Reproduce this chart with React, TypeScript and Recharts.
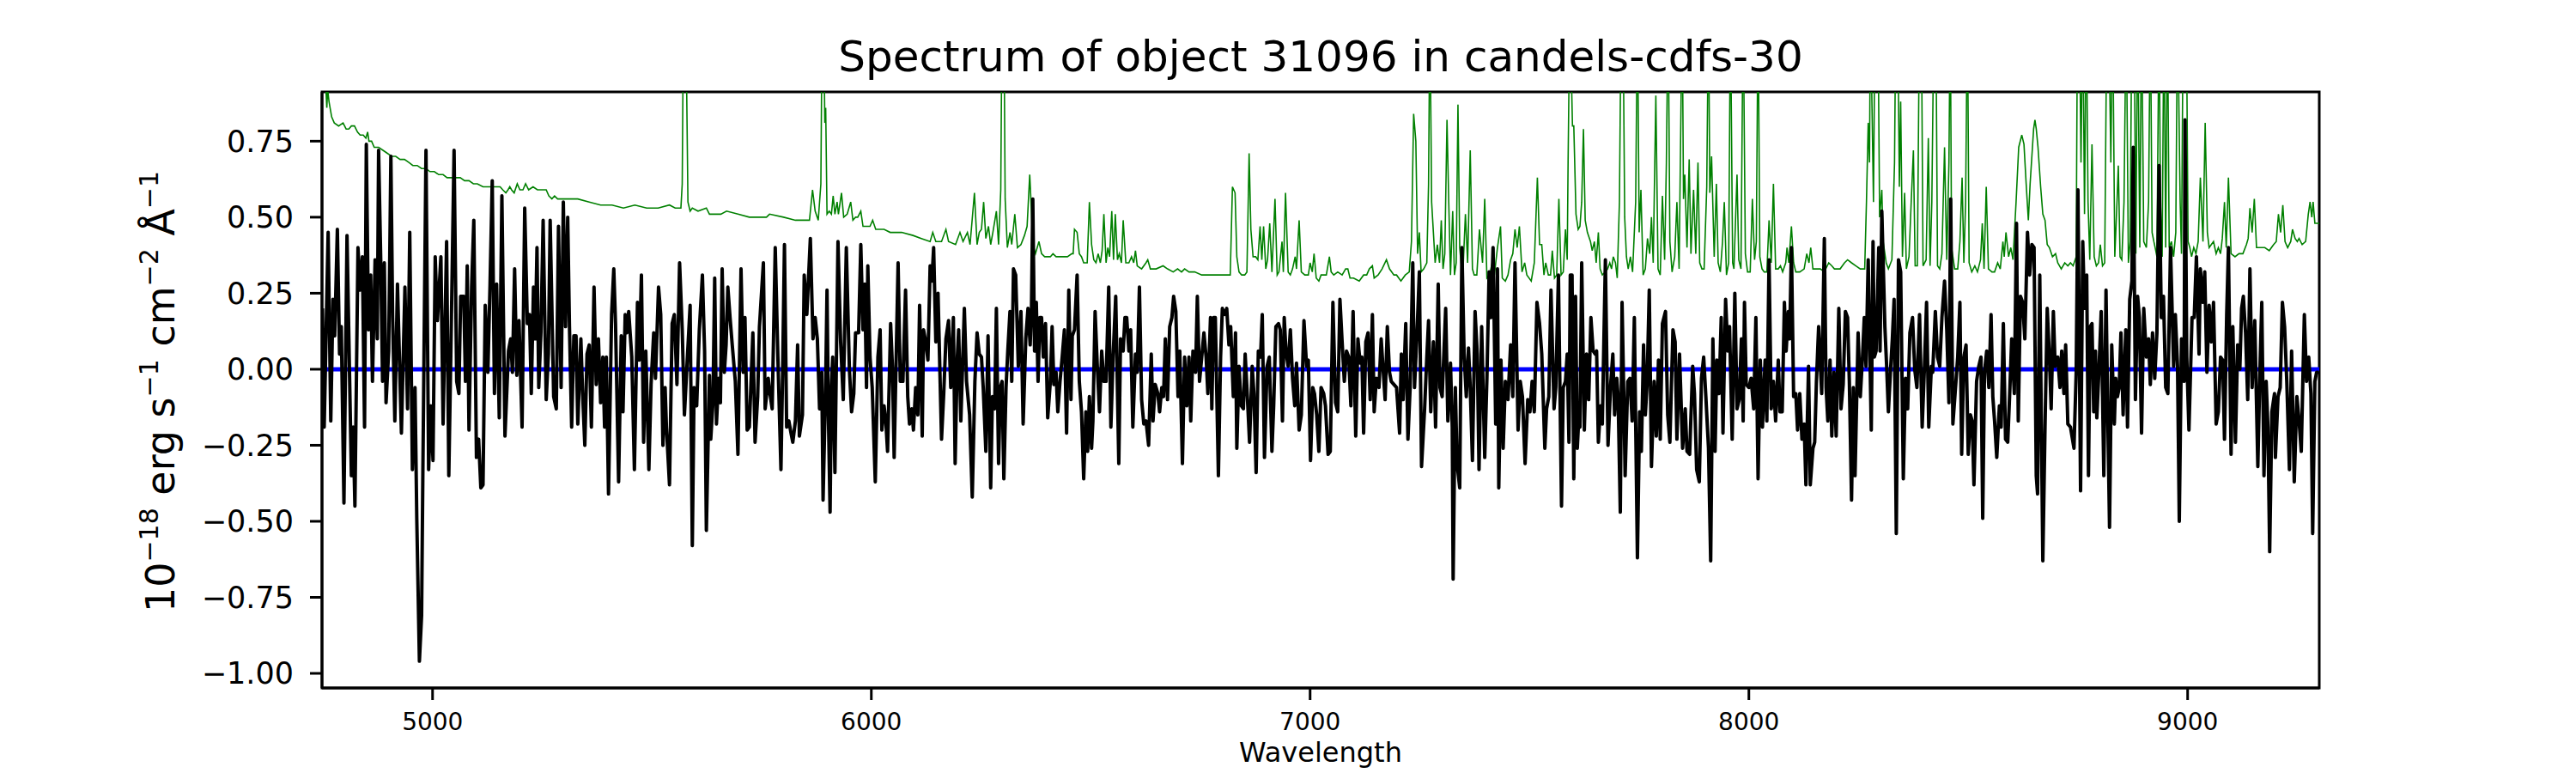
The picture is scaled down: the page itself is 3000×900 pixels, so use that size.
import React from 'react';
import { LineChart, Line, XAxis, YAxis, ReferenceArea } from 'recharts';

const FONT = '"DejaVu Sans", sans-serif';
const CHART_W = 2984;
const CHART_H = 890;

const WAVE_DOMAIN: [number, number] = [4748, 9300];
const FLUX_DOMAIN: [number, number] = [-1.048, 0.912];
const WAVE_TICKS = [5000, 6000, 7000, 8000, 9000];
const FLUX_TICKS = [-1, -0.75, -0.5, -0.25, 0, 0.25, 0.5, 0.75];

const TITLE = 'Spectrum of object 31096 in candels-cdfs-30';

// object flux, [wavelength, flux] in chunks
const fluxA = [
  [4749, 0.2], [4753, -0.19], [4762, 0.45], [4768, -0.17], [4773, 0.23], [4777, 0.11], [4783, 0.46], [4788, 0.05],
  [4792, 0.14], [4798, -0.44], [4805, 0.44], [4815, -0.35], [4819, -0.19], [4823, -0.45], [4830, 0.4], [4835, 0.26],
  [4840, 0.37], [4845, -0.19], [4849, 0.74], [4854, 0.13], [4859, 0.31], [4863, -0.04], [4869, 0.36], [4874, 0.1],
  [4877, 0.72], [4882, 0.35], [4886, -0.04], [4890, 0.35], [4894, -0.11], [4900, 0.06], [4905, 0.7], [4909, 0.17],
  [4914, -0.17], [4920, 0.28], [4929, -0.21], [4937, 0.27], [4943, -0.13], [4948, 0.45], [4954, -0.33], [4960, -0.06],
  [4964, -0.49], [4970, -0.96], [4975, -0.81], [4978, -0.32], [4985, 0.72], [4991, -0.33], [4996, -0.12], [5001, -0.3],
  [5006, 0.37], [5011, 0.16], [5019, 0.37], [5024, -0.18], [5032, 0.42], [5037, -0.35], [5043, 0.17], [5049, 0.72],
  [5055, -0.04], [5060, -0.08], [5064, 0.24], [5071, 0.24], [5075, -0.04], [5079, 0.34], [5083, -0.2], [5089, 0.27],
  [5094, 0.49], [5100, -0.29], [5105, -0.23], [5110, -0.39], [5115, -0.38], [5120, 0.21], [5126, -0.01], [5131, 0.28],
  [5136, 0.62], [5141, -0.08], [5146, 0.28], [5152, -0.16], [5158, 0.57], [5165, -0.22], [5173, 0.06], [5178, 0.1],
  [5182, -0.01], [5187, 0.33], [5192, -0.02], [5197, 0.16], [5204, -0.19], [5210, 0.53], [5216, 0.15], [5221, 0.18],
  [5225, -0.08], [5230, 0.27], [5234, 0.1], [5238, 0.4], [5242, -0.06], [5247, 0.12], [5252, 0.49], [5259, -0.1],
  [5264, 0.05], [5268, 0.49], [5276, -0.09], [5282, -0.13], [5287, 0.47], [5293, -0.06], [5298, 0.55], [5303, 0.14],
  [5308, 0.5], [5312, 0.14], [5317, -0.19], [5322, 0.11],
];

const fluxB = [
  [5327, 0.11], [5331, -0.18], [5338, 0.1], [5342, -0.08], [5347, -0.25], [5352, 0.05], [5357, 0.08], [5362, -0.19],
  [5368, 0.27], [5373, -0.05], [5378, 0.1], [5383, -0.11], [5388, 0.04], [5392, -0.19], [5396, 0.04], [5401, -0.41],
  [5408, 0.18], [5413, 0.33], [5417, 0.15], [5424, -0.37], [5430, 0.11], [5434, -0.14], [5439, 0.18], [5443, 0.12],
  [5447, 0.19], [5454, 0.04], [5460, -0.33], [5467, 0.22], [5471, 0.03], [5476, 0.31], [5481, -0.24], [5486, 0.06],
  [5493, -0.33], [5498, -0.05], [5504, 0.12], [5508, -0.03], [5515, 0.27], [5520, 0.18], [5525, -0.25], [5530, -0.06],
  [5533, -0.19], [5540, -0.38], [5546, 0.15], [5551, 0.18], [5557, -0.05], [5563, 0.35], [5569, 0.13], [5574, -0.15],
  [5579, -0.01], [5587, 0.21], [5592, -0.58], [5596, -0.06], [5602, -0.12], [5608, 0.13], [5615, 0.31], [5620, 0.06],
  [5624, -0.53], [5631, -0.02], [5634, -0.23], [5639, -0.11], [5643, 0.3], [5647, -0.18], [5652, -0.03], [5656, -0.11],
  [5660, 0.33], [5665, -0.01], [5669, 0.08], [5673, 0.27], [5678, 0.17], [5683, 0.08], [5690, -0.04], [5696, -0.28],
  [5703, 0.33], [5708, -0.01], [5712, 0.17], [5717, -0.2], [5722, -0.19], [5730, 0.12], [5735, -0.24], [5741, -0.09],
  [5745, 0.14], [5754, 0.35], [5758, -0.13], [5765, -0.03], [5769, -0.08], [5774, -0.13], [5781, 0.4], [5787, 0.04],
  [5794, -0.33], [5798, 0.01], [5802, 0.41], [5807, -0.19], [5812, -0.17], [5817, -0.21], [5821, -0.24], [5827, -0.17],
  [5832, 0.08], [5836, -0.22], [5843, -0.15], [5847, 0.31], [5853, 0.18], [5861, 0.43], [5867, 0.1], [5872, 0.17],
  [5877, 0.1], [5882, -0.13], [5887, -0.01], [5890, -0.43],
];

const fluxC = [
  [5896, -0.04], [5899, 0.26], [5902, -0.14], [5906, -0.47], [5909, -0.06], [5912, 0.04], [5917, -0.34], [5924, 0.42],
  [5930, 0.09], [5936, -0.1], [5943, 0.4], [5950, 0.0], [5955, -0.14], [5960, -0.08], [5964, 0.12], [5971, 0.12],
  [5976, 0.41], [5981, 0.13], [5985, 0.28], [5989, -0.06], [5992, 0.34], [5997, 0.04], [6002, -0.06], [6009, -0.37],
  [6015, 0.04], [6020, 0.13], [6024, -0.2], [6029, -0.12], [6033, -0.17], [6037, -0.27], [6044, 0.15], [6048, 0.01],
  [6052, -0.29], [6061, 0.35], [6066, -0.04], [6072, -0.04], [6078, 0.26], [6083, -0.09], [6087, -0.18], [6092, -0.13],
  [6096, -0.2], [6101, -0.06], [6106, -0.15], [6110, 0.21], [6116, -0.22], [6119, 0.13], [6124, 0.09], [6129, 0.03],
  [6134, 0.34], [6138, 0.29], [6142, 0.4], [6147, 0.09], [6152, 0.25], [6160, -0.23], [6165, -0.08], [6170, 0.1],
  [6176, 0.16], [6181, -0.06], [6187, 0.17], [6191, -0.31], [6196, 0.04], [6199, 0.13], [6204, -0.17], [6212, 0.2],
  [6217, -0.04], [6224, -0.15], [6230, -0.42], [6236, -0.04], [6241, 0.12], [6246, 0.05], [6251, 0.04], [6255, -0.06],
  [6261, -0.27], [6266, 0.11], [6272, -0.39], [6276, -0.09], [6281, -0.13], [6285, 0.2], [6290, -0.31], [6294, -0.06],
  [6298, -0.04], [6302, -0.36], [6307, -0.06], [6311, 0.06], [6316, 0.19], [6320, -0.04], [6324, 0.33], [6329, 0.31],
  [6335, 0.01], [6341, 0.19], [6346, -0.18], [6352, 0.1], [6357, 0.2], [6362, 0.08], [6365, 0.2], [6368, 0.56],
  [6372, 0.06], [6376, 0.22], [6380, -0.04], [6384, 0.17], [6388, 0.17], [6392, 0.04], [6397, 0.15], [6402, -0.16],
  [6408, -0.04], [6412, 0.14], [6416, -0.05], [6421, -0.01], [6425, -0.14], [6430, -0.04], [6435, 0.04], [6440, 0.13],
  [6445, -0.21], [6450, 0.26], [6455, -0.1], [6458, 0.11],
];

const fluxD = [
  [6463, 0.13], [6469, 0.31], [6474, -0.04], [6479, -0.14], [6484, -0.36], [6489, -0.14], [6493, -0.27], [6497, -0.09],
  [6502, -0.26], [6505, -0.17], [6510, 0.19], [6515, 0.01], [6520, -0.14], [6525, 0.06], [6530, -0.04], [6535, -0.04],
  [6541, 0.27], [6546, -0.19], [6551, 0.04], [6557, 0.24], [6564, -0.31], [6568, 0.1], [6574, 0.06], [6578, 0.17],
  [6582, 0.17], [6587, 0.06], [6591, 0.13], [6596, -0.19], [6602, 0.05], [6606, -0.01], [6611, 0.27], [6616, -0.1],
  [6621, -0.18], [6626, -0.17], [6632, -0.25], [6638, 0.05], [6642, -0.17], [6647, -0.05], [6653, -0.08], [6657, -0.14],
  [6662, -0.06], [6666, -0.09], [6670, 0.1], [6675, -0.1], [6680, 0.14], [6685, 0.17], [6689, 0.24], [6694, 0.19],
  [6699, -0.09], [6703, 0.06], [6709, -0.31], [6714, 0.04], [6719, -0.12], [6724, 0.04], [6728, -0.17], [6733, 0.06],
  [6739, -0.01], [6743, 0.24], [6748, -0.04], [6753, 0.04], [6758, 0.12], [6763, 0.04], [6767, -0.08], [6773, 0.17],
  [6776, -0.13], [6780, 0.17], [6784, 0.17], [6791, -0.35], [6796, 0.04], [6800, 0.2], [6805, 0.18], [6810, 0.2],
  [6815, 0.08], [6819, 0.14], [6825, -0.09], [6830, 0.12], [6833, -0.26], [6838, 0.01], [6843, -0.12], [6848, -0.13],
  [6852, 0.05], [6857, -0.09], [6862, -0.24], [6868, 0.01], [6872, -0.08], [6877, -0.34], [6882, 0.06], [6887, 0.04],
  [6891, 0.18], [6896, -0.29], [6902, 0.01], [6907, 0.04], [6913, -0.27], [6917, -0.12], [6922, 0.14], [6928, 0.15],
  [6932, 0.13], [6937, -0.17], [6941, 0.17], [6945, 0.06], [6950, 0.01], [6955, 0.13], [6960, -0.03], [6965, -0.12],
  [6969, 0.02], [6975, -0.2], [6980, -0.15], [6986, 0.16], [6992, 0.01], [6996, 0.03], [7001, -0.3], [7006, -0.06],
  [7010, -0.08], [7015, -0.15], [7020, -0.27], [7025, -0.06],
];

const fluxE = [
  [7031, -0.08], [7035, -0.12], [7041, -0.28], [7046, -0.27], [7052, 0.22], [7058, -0.11], [7063, -0.14], [7068, 0.23],
  [7073, 0.09], [7078, -0.04], [7083, 0.06], [7088, 0.04], [7093, -0.12], [7098, 0.19], [7104, -0.22], [7109, 0.1],
  [7114, 0.02], [7118, 0.04], [7122, -0.21], [7127, 0.09], [7132, 0.12], [7137, -0.1], [7142, 0.18], [7146, -0.14],
  [7151, -0.03], [7157, -0.06], [7162, 0.1], [7166, 0.01], [7171, -0.1], [7176, 0.14], [7181, -0.01], [7185, -0.04],
  [7191, -0.05], [7197, -0.06], [7204, -0.21], [7208, 0.05], [7212, -0.1], [7218, 0.15], [7223, -0.23], [7228, -0.06],
  [7234, 0.35], [7238, -0.06], [7244, 0.13], [7249, 0.32], [7254, -0.32], [7261, -0.13], [7266, 0.04], [7270, 0.16],
  [7275, -0.14], [7281, 0.09], [7286, -0.19], [7292, 0.28], [7296, -0.06], [7301, -0.09], [7309, 0.2], [7314, -0.17],
  [7320, 0.02], [7324, -0.19], [7326, -0.69], [7331, -0.06], [7335, -0.31], [7341, -0.39], [7346, 0.4], [7351, 0.05],
  [7356, -0.09], [7361, 0.07], [7365, -0.06], [7370, -0.3], [7376, 0.19], [7381, 0.05], [7385, -0.33], [7391, 0.14],
  [7398, -0.29], [7403, -0.03], [7408, 0.32], [7412, 0.17], [7417, 0.4], [7423, -0.18], [7427, 0.33], [7430, -0.39],
  [7435, 0.03], [7440, -0.26], [7445, -0.04], [7451, -0.1], [7457, 0.08], [7462, -0.09], [7467, 0.35], [7474, -0.2],
  [7479, -0.04], [7484, -0.09], [7490, -0.31], [7496, -0.1], [7501, -0.14], [7506, -0.04], [7511, -0.14], [7517, 0.22],
  [7523, 0.15], [7528, 0.05], [7535, -0.26], [7539, -0.13], [7544, -0.09], [7549, 0.26], [7556, -0.13], [7560, -0.06],
  [7566, 0.31], [7573, -0.45], [7577, -0.06], [7582, -0.04], [7586, 0.05], [7590, -0.24], [7593, 0.31],
];

const fluxF = [
  [7597, 0.31], [7601, -0.36], [7605, 0.24], [7609, -0.26], [7613, -0.14], [7615, -0.19], [7619, 0.35], [7625, -0.2],
  [7630, 0.05], [7635, -0.1], [7640, 0.17], [7645, 0.06], [7650, 0.05], [7653, 0.06], [7657, -0.24], [7662, -0.12],
  [7666, -0.18], [7673, 0.36], [7679, -0.25], [7685, -0.05], [7690, 0.05], [7694, -0.15], [7699, -0.03], [7702, -0.09],
  [7707, -0.47], [7711, 0.22], [7715, -0.09], [7718, -0.35], [7724, -0.04], [7729, -0.03], [7734, -0.17], [7739, 0.17],
  [7746, -0.62], [7751, -0.14], [7755, -0.27], [7760, 0.08], [7764, -0.15], [7768, -0.05], [7773, 0.26], [7778, -0.32],
  [7784, -0.04], [7789, -0.22], [7794, 0.03], [7798, -0.23], [7803, 0.15], [7810, 0.19], [7815, -0.15], [7820, -0.24],
  [7827, 0.13], [7832, 0.09], [7836, -0.23], [7842, 0.05], [7849, -0.26], [7855, -0.13], [7859, -0.27], [7865, -0.28],
  [7872, 0.01], [7876, -0.08], [7881, -0.33], [7887, -0.37], [7892, -0.03], [7897, 0.04], [7902, -0.09], [7908, -0.26],
  [7913, -0.63], [7918, 0.1], [7923, -0.27], [7927, 0.03], [7932, -0.08], [7937, 0.17], [7941, -0.21], [7947, 0.23],
  [7952, 0.06], [7956, 0.14], [7962, -0.23], [7968, 0.25], [7973, -0.13], [7978, -0.1], [7983, 0.1], [7987, -0.17],
  [7990, 0.22], [7994, -0.05], [8000, -0.06], [8005, -0.03], [8011, -0.13], [8016, 0.17], [8021, -0.36], [8026, 0.03],
  [8031, -0.19], [8037, 0.03], [8041, -0.17], [8046, 0.36], [8051, -0.13], [8056, -0.04], [8061, -0.17], [8067, 0.03],
  [8071, -0.14], [8076, -0.14], [8081, 0.22], [8085, 0.06], [8090, 0.19], [8093, 0.1], [8097, 0.4], [8102, -0.09],
  [8107, -0.08], [8111, -0.2], [8116, -0.08], [8121, -0.23], [8126, -0.18], [8130, -0.38], [8136, 0.01], [8140, -0.38],
  [8146, -0.26], [8150, -0.24], [8154, -0.04], [8159, 0.14],
];

const fluxG = [
  [8166, -0.08], [8172, 0.43], [8176, -0.06], [8180, -0.17], [8185, 0.03], [8189, -0.22], [8194, -0.01], [8199, -0.22],
  [8205, 0.2], [8210, -0.13], [8215, -0.05], [8220, 0.19], [8225, 0.17], [8229, -0.04], [8234, -0.43], [8238, -0.06],
  [8242, -0.35], [8249, 0.12], [8254, -0.09], [8259, 0.04], [8263, 0.17], [8267, 0.01], [8272, 0.36], [8279, -0.2],
  [8283, 0.42], [8286, 0.04], [8290, 0.06], [8296, 0.4], [8299, 0.06], [8303, 0.52], [8310, 0.14], [8314, 0.01],
  [8318, -0.14], [8323, 0.0], [8327, 0.1], [8331, 0.23], [8336, -0.54], [8341, 0.36], [8346, 0.32], [8352, -0.36],
  [8357, -0.03], [8362, -0.13], [8367, 0.12], [8373, 0.17], [8378, 0.0], [8383, -0.06], [8389, 0.18], [8395, -0.19],
  [8400, 0.0], [8405, 0.22], [8410, -0.19], [8416, 0.01], [8419, -0.01], [8425, 0.19], [8430, 0.04], [8435, 0.01],
  [8440, 0.17], [8446, 0.29], [8451, 0.13], [8456, -0.11], [8460, 0.56], [8465, -0.18], [8470, -0.08], [8476, 0.04],
  [8481, 0.22], [8485, -0.28], [8490, 0.04], [8495, 0.08], [8500, -0.28], [8505, -0.15], [8509, -0.17], [8513, -0.38],
  [8519, -0.04], [8524, 0.01], [8529, 0.04], [8533, -0.49], [8537, -0.01], [8542, 0.06], [8547, -0.06], [8552, 0.18],
  [8556, -0.09], [8560, -0.17], [8565, -0.29], [8571, -0.12], [8575, -0.19], [8580, 0.15], [8585, -0.23], [8590, -0.24],
  [8595, -0.06], [8599, 0.1], [8605, -0.08], [8610, 0.48], [8614, -0.17], [8619, 0.24], [8624, 0.22], [8629, 0.1],
  [8635, 0.45], [8640, 0.31], [8645, 0.41], [8650, 0.4], [8655, -0.35], [8658, -0.41], [8663, 0.31], [8670, -0.63],
  [8675, -0.19], [8680, 0.2], [8685, 0.04], [8689, -0.13], [8694, 0.19], [8698, 0.01], [8704, 0.04], [8709, -0.06],
  [8713, 0.06], [8718, -0.08], [8722, 0.08], [8727, -0.18],
];

const fluxH = [
  [8733, -0.19], [8741, -0.26], [8746, -0.01], [8750, 0.59], [8756, -0.4], [8761, 0.42], [8765, 0.2], [8770, 0.31],
  [8774, -0.35], [8778, 0.14], [8782, 0.15], [8786, -0.14], [8790, 0.06], [8793, -0.16], [8798, 0.0], [8803, 0.19],
  [8809, -0.35], [8814, 0.26], [8818, -0.15], [8822, -0.52], [8827, 0.08], [8833, -0.18], [8836, -0.03], [8840, -0.09],
  [8844, -0.06], [8848, 0.12], [8853, -0.15], [8859, 0.13], [8863, -0.19], [8868, 0.23], [8873, 0.29], [8876, 0.73],
  [8881, -0.1], [8886, 0.24], [8890, 0.17], [8895, -0.21], [8900, 0.2], [8906, 0.04], [8911, 0.1], [8915, -0.05],
  [8920, 0.12], [8925, -0.03], [8930, 0.12], [8935, 0.67], [8940, 0.17], [8945, 0.24], [8950, -0.06], [8955, -0.08],
  [8961, 0.4], [8968, 0.01], [8972, 0.18], [8977, 0.01], [8981, -0.5], [8986, 0.1], [8992, -0.04], [8994, 0.82],
  [8998, 0.04], [9003, -0.2], [9010, 0.17], [9015, 0.17], [9020, 0.37], [9026, 0.05], [9029, 0.33], [9035, 0.22],
  [9039, 0.32], [9044, -0.01], [9049, 0.21], [9054, 0.09], [9059, 0.22], [9065, -0.18], [9070, -0.14], [9075, 0.04],
  [9080, 0.03], [9084, -0.23], [9089, 0.18], [9093, 0.4], [9099, -0.28], [9103, 0.14], [9109, -0.24], [9114, 0.08],
  [9119, 0.0], [9123, 0.2], [9127, 0.24], [9132, 0.12], [9137, -0.1], [9142, 0.33], [9147, -0.06], [9153, 0.16],
  [9160, -0.32], [9165, 0.01], [9169, 0.22], [9174, -0.35], [9179, -0.04], [9183, -0.19], [9187, -0.6], [9192, -0.14],
  [9198, -0.08], [9200, -0.29], [9206, -0.09], [9211, -0.06], [9216, 0.22], [9221, 0.14], [9226, -0.04], [9232, -0.33],
  [9237, 0.06], [9243, -0.37], [9249, -0.09], [9254, -0.17], [9259, -0.27], [9266, 0.18], [9271, -0.04], [9276, 0.04],
  [9281, -0.08], [9285, -0.54], [9290, -0.04], [9294, -0.01], [9299, -0.01],
];

// noise spectrum (green); sky-line peaks run past the top of the axes
const noiseA = [
  [4748, 1.0], [4756, 0.95], [4759, 0.86], [4761, 0.92], [4764, 0.88], [4770, 0.83], [4776, 0.81], [4786, 0.8],
  [4796, 0.81], [4803, 0.79], [4809, 0.79], [4815, 0.8], [4822, 0.8], [4829, 0.78], [4835, 0.77], [4842, 0.77],
  [4848, 0.76], [4852, 0.78], [4855, 0.75], [4861, 0.75], [4867, 0.73], [4877, 0.73], [4887, 0.72], [4897, 0.71],
  [4907, 0.7], [4916, 0.7], [4926, 0.69], [4936, 0.69], [4946, 0.68], [4955, 0.67], [4965, 0.67], [4975, 0.66],
  [4985, 0.66], [4994, 0.65], [5004, 0.65], [5014, 0.64], [5024, 0.64], [5033, 0.63], [5043, 0.63], [5053, 0.63],
  [5063, 0.63], [5073, 0.62], [5083, 0.62], [5093, 0.61], [5102, 0.61], [5115, 0.6], [5128, 0.6], [5141, 0.6],
  [5154, 0.6], [5160, 0.59], [5167, 0.58], [5172, 0.59], [5176, 0.6], [5180, 0.59], [5186, 0.58], [5193, 0.61],
  [5199, 0.59], [5206, 0.59], [5212, 0.61], [5219, 0.59], [5229, 0.6], [5239, 0.59], [5249, 0.59], [5259, 0.59],
  [5265, 0.57], [5272, 0.56], [5278, 0.57], [5285, 0.56], [5291, 0.56], [5301, 0.56], [5311, 0.56],
];

const noiseB = [
  [5331, 0.56], [5357, 0.55], [5383, 0.54], [5409, 0.54], [5435, 0.53], [5461, 0.54], [5488, 0.53], [5514, 0.53],
  [5540, 0.54], [5553, 0.53], [5566, 0.53], [5569, 0.61], [5572, 1.2], [5577, 1.2], [5582, 0.55], [5587, 0.52],
  [5592, 0.53], [5605, 0.52], [5624, 0.53], [5631, 0.51], [5657, 0.51], [5670, 0.52], [5696, 0.51], [5722, 0.5],
  [5761, 0.5], [5768, 0.51], [5800, 0.5], [5827, 0.49], [5853, 0.49], [5859, 0.49], [5866, 0.59], [5872, 0.52],
  [5879, 0.49], [5885, 0.61], [5888, 1.2],
];

const noiseC = [
  [5891, 1.2], [5894, 0.81], [5896, 0.86], [5899, 0.51], [5904, 0.52], [5909, 0.51], [5913, 0.57], [5917, 0.51],
  [5922, 0.55], [5925, 0.51], [5932, 0.58], [5937, 0.5], [5945, 0.51], [5953, 0.55], [5958, 0.49], [5964, 0.5],
  [5969, 0.5], [5976, 0.52], [5981, 0.47], [5997, 0.47], [6003, 0.49], [6010, 0.46], [6029, 0.46], [6043, 0.45],
  [6069, 0.45], [6095, 0.44], [6114, 0.43], [6134, 0.42], [6140, 0.45], [6147, 0.42], [6160, 0.42], [6170, 0.46],
  [6176, 0.42], [6192, 0.41], [6202, 0.45], [6209, 0.42], [6219, 0.45], [6225, 0.41], [6235, 0.58], [6241, 0.41],
  [6246, 0.45], [6251, 0.46], [6256, 0.55], [6261, 0.43], [6267, 0.47], [6272, 0.41], [6277, 0.45], [6285, 0.52],
  [6290, 0.41], [6295, 0.59], [6298, 1.2], [6302, 1.2], [6305, 0.56], [6310, 0.4], [6316, 0.45], [6320, 0.41],
  [6327, 0.51], [6333, 0.4], [6341, 0.41], [6349, 0.44], [6355, 0.47], [6361, 0.64], [6363, 0.58], [6368, 0.41],
  [6374, 0.38], [6382, 0.42], [6388, 0.38], [6395, 0.37], [6408, 0.37], [6414, 0.38], [6421, 0.37], [6434, 0.37],
  [6447, 0.37], [6457, 0.38],
];

const noiseD = [
  [6460, 0.38], [6463, 0.46], [6469, 0.45], [6474, 0.38], [6479, 0.37], [6484, 0.35], [6492, 0.35], [6497, 0.55],
  [6502, 0.41], [6507, 0.36], [6512, 0.35], [6517, 0.38], [6522, 0.35], [6526, 0.39], [6530, 0.51], [6535, 0.35],
  [6539, 0.4], [6543, 0.37], [6548, 0.52], [6552, 0.36], [6556, 0.51], [6561, 0.36], [6565, 0.38], [6570, 0.35],
  [6574, 0.49], [6580, 0.35], [6587, 0.35], [6593, 0.37], [6598, 0.35], [6602, 0.39], [6606, 0.34], [6616, 0.33],
  [6626, 0.35], [6630, 0.36], [6636, 0.33], [6649, 0.33], [6665, 0.34], [6675, 0.33], [6688, 0.32], [6698, 0.33],
  [6707, 0.32], [6714, 0.33], [6724, 0.32], [6737, 0.32], [6753, 0.31], [6766, 0.31], [6779, 0.31], [6792, 0.31],
  [6805, 0.31], [6818, 0.31], [6823, 0.6], [6829, 0.58], [6833, 0.37], [6838, 0.32], [6844, 0.31], [6851, 0.31],
  [6856, 0.32], [6861, 0.71], [6865, 0.46], [6870, 0.37], [6876, 0.37], [6881, 0.36], [6886, 0.47], [6890, 0.36],
  [6894, 0.47], [6899, 0.33], [6903, 0.36], [6908, 0.48], [6913, 0.32], [6920, 0.56], [6925, 0.31], [6929, 0.32],
  [6936, 0.42], [6939, 0.32], [6944, 0.58], [6950, 0.32], [6955, 0.31], [6960, 0.33], [6966, 0.37], [6969, 0.33],
  [6975, 0.49], [6980, 0.32], [6988, 0.31], [6996, 0.31], [7000, 0.35], [7005, 0.32], [7009, 0.38], [7014, 0.3],
  [7020, 0.29], [7025, 0.31],
];

const noiseE = [
  [7028, 0.31], [7037, 0.31], [7044, 0.37], [7048, 0.32], [7054, 0.31], [7063, 0.32], [7073, 0.31], [7081, 0.33],
  [7086, 0.33], [7091, 0.3], [7099, 0.3], [7112, 0.29], [7122, 0.31], [7129, 0.31], [7135, 0.33], [7142, 0.34],
  [7146, 0.3], [7155, 0.31], [7164, 0.33], [7174, 0.36], [7181, 0.33], [7191, 0.31], [7197, 0.31], [7207, 0.29],
  [7217, 0.31], [7226, 0.32], [7231, 0.42], [7236, 0.84], [7241, 0.75], [7245, 0.38], [7249, 0.45], [7253, 0.32],
  [7259, 0.33], [7266, 0.35], [7270, 0.61], [7273, 1.2], [7277, 0.55], [7281, 0.45], [7285, 0.35], [7290, 0.41],
  [7295, 0.35], [7299, 0.49], [7303, 0.33], [7307, 0.38], [7312, 0.82], [7316, 0.55], [7320, 0.31], [7325, 0.52],
  [7329, 0.31], [7333, 0.35], [7337, 0.87], [7341, 0.4], [7344, 0.35], [7348, 0.31], [7354, 0.51], [7359, 0.35],
  [7365, 0.72], [7370, 0.33], [7374, 0.31], [7380, 0.31], [7386, 0.46], [7393, 0.35], [7398, 0.56], [7403, 0.3],
  [7409, 0.31], [7415, 0.35], [7420, 0.31], [7427, 0.4], [7434, 0.47], [7438, 0.3], [7445, 0.29], [7451, 0.31],
  [7457, 0.36], [7462, 0.38], [7467, 0.46], [7472, 0.4], [7477, 0.47], [7483, 0.32], [7489, 0.35], [7494, 0.31],
  [7504, 0.29], [7511, 0.35], [7518, 0.63], [7523, 0.41], [7528, 0.41], [7533, 0.31], [7537, 0.35], [7543, 0.31],
  [7548, 0.31], [7552, 0.39], [7557, 0.3], [7562, 0.31], [7567, 0.56], [7572, 0.31], [7577, 0.32], [7582, 0.46],
  [7586, 0.36], [7588, 0.68], [7592, 1.2],
];

const noiseF = [
  [7598, 0.8], [7601, 0.8], [7606, 0.51], [7611, 0.46], [7615, 0.47], [7619, 0.55], [7623, 0.79], [7627, 0.49],
  [7632, 0.45], [7639, 0.42], [7643, 0.39], [7648, 0.42], [7652, 0.35], [7657, 0.45], [7661, 0.33], [7666, 0.31],
  [7673, 0.32], [7678, 0.33], [7683, 0.35], [7687, 0.33], [7691, 0.37], [7696, 0.35], [7700, 0.3], [7705, 0.55],
  [7709, 1.2], [7713, 1.2], [7717, 0.5], [7721, 0.37], [7725, 0.33], [7730, 0.37], [7735, 0.32], [7742, 0.55],
  [7746, 1.2], [7750, 0.45], [7754, 0.59], [7759, 0.31], [7764, 0.33], [7769, 0.43], [7774, 0.38], [7778, 0.5],
  [7782, 0.35], [7788, 0.9], [7793, 0.33], [7798, 0.31], [7803, 0.57], [7808, 0.36], [7812, 0.68], [7816, 1.2],
  [7820, 0.42], [7825, 0.32], [7831, 0.37], [7836, 0.55], [7841, 0.33], [7848, 1.2], [7851, 0.56], [7854, 0.64],
  [7859, 0.4], [7864, 0.69], [7868, 0.38], [7874, 0.59], [7879, 0.38], [7884, 0.68], [7888, 0.35], [7893, 0.33],
  [7898, 0.33], [7904, 0.6], [7908, 1.2], [7911, 0.58], [7915, 0.7], [7921, 0.37], [7926, 0.61], [7930, 0.35],
  [7935, 0.32], [7940, 0.42], [7944, 0.55], [7949, 0.31], [7954, 0.35], [7958, 1.2], [7963, 0.35], [7966, 0.33],
  [7973, 0.64], [7977, 0.36], [7982, 0.33], [7987, 1.2], [7992, 0.38], [7997, 0.32], [8003, 0.32], [8008, 0.56],
  [8013, 0.36], [8017, 0.42], [8021, 1.2], [8025, 0.37], [8030, 0.33], [8035, 0.32], [8041, 0.32], [8046, 0.49],
  [8051, 0.35], [8056, 0.61], [8061, 0.33], [8067, 0.33], [8072, 0.34], [8077, 0.32], [8084, 0.35], [8087, 0.4],
  [8091, 0.35], [8097, 0.47], [8102, 0.35], [8107, 0.32], [8116, 0.32], [8126, 0.33], [8132, 0.38], [8137, 0.35],
  [8141, 0.4], [8146, 0.33], [8152, 0.33], [8160, 0.33],
];

const noiseG = [
  [8163, 0.33], [8172, 0.32], [8182, 0.35], [8189, 0.34], [8195, 0.33], [8208, 0.33], [8218, 0.35], [8225, 0.36],
  [8234, 0.35], [8244, 0.34], [8254, 0.33], [8264, 0.33], [8268, 0.55], [8272, 0.81], [8275, 0.68], [8277, 1.2],
  [8281, 0.83], [8284, 0.55], [8286, 0.9], [8290, 1.2], [8294, 1.2], [8298, 0.5], [8303, 0.59], [8306, 0.42],
  [8313, 0.35], [8318, 0.33], [8326, 0.36], [8332, 0.68], [8335, 1.2], [8339, 1.2], [8343, 0.6], [8346, 0.88],
  [8350, 0.37], [8355, 0.58], [8359, 0.33], [8365, 0.37], [8370, 0.55], [8375, 0.72], [8379, 0.34], [8384, 0.34],
  [8389, 1.2], [8393, 1.2], [8397, 0.34], [8404, 0.36], [8409, 0.76], [8413, 0.34], [8417, 0.55], [8422, 1.2],
  [8426, 1.2], [8430, 0.34], [8435, 0.33], [8440, 0.38], [8446, 0.73], [8451, 0.36], [8456, 0.68], [8459, 1.2],
  [8462, 0.4], [8469, 0.33], [8476, 0.33], [8481, 0.42], [8486, 0.63], [8490, 0.35], [8494, 0.55], [8498, 1.2],
  [8502, 0.35], [8508, 0.32], [8515, 0.34], [8521, 0.32], [8528, 0.36], [8532, 0.48], [8536, 0.33], [8541, 0.6],
  [8546, 0.33], [8554, 0.32], [8560, 0.32], [8567, 0.35], [8573, 0.33], [8579, 0.42], [8582, 0.37], [8586, 0.45],
  [8592, 0.37], [8597, 0.4], [8602, 0.36], [8609, 0.55], [8615, 0.73], [8622, 0.77], [8627, 0.74], [8632, 0.61],
  [8637, 0.49], [8641, 0.61], [8645, 0.7], [8649, 0.79], [8652, 0.82], [8655, 0.79], [8659, 0.73], [8665, 0.6],
  [8670, 0.51], [8675, 0.49], [8680, 0.41], [8685, 0.4], [8692, 0.37], [8699, 0.38], [8704, 0.35], [8712, 0.33],
  [8720, 0.35], [8727, 0.34],
];

const noiseH = [
  [8733, 0.35], [8739, 0.34], [8746, 0.37], [8749, 1.2], [8753, 1.2], [8757, 0.68], [8761, 1.2], [8765, 0.51],
  [8769, 1.2], [8773, 0.55], [8777, 0.36], [8782, 0.74], [8787, 0.37], [8792, 0.34], [8797, 0.35], [8801, 0.41],
  [8806, 0.34], [8811, 0.35], [8816, 1.2], [8820, 1.2], [8825, 0.68], [8829, 1.2], [8834, 0.37], [8839, 0.55],
  [8842, 0.67], [8846, 0.37], [8850, 0.36], [8855, 0.55], [8860, 1.2], [8865, 0.35], [8869, 0.42], [8873, 1.2],
  [8878, 1.2], [8882, 0.38], [8886, 1.2], [8891, 0.4], [8895, 1.2], [8900, 0.42], [8906, 0.4], [8911, 0.55],
  [8915, 1.2], [8919, 0.45], [8923, 0.42], [8926, 0.4], [8930, 0.37], [8935, 1.2], [8938, 0.55], [8942, 0.37],
  [8946, 1.2], [8950, 0.4], [8954, 1.2], [8958, 0.4], [8963, 0.42], [8968, 0.37], [8973, 0.45], [8977, 1.2],
  [8983, 0.55], [8986, 0.38], [8990, 1.2], [8997, 1.2], [9001, 0.42], [9005, 0.4], [9009, 0.37], [9014, 0.4],
  [9019, 0.38], [9024, 0.42], [9029, 0.63], [9035, 0.42], [9040, 0.81], [9045, 0.45], [9049, 0.4], [9054, 0.41],
  [9059, 0.42], [9065, 0.38], [9070, 0.4], [9075, 0.38], [9079, 0.43], [9084, 0.55], [9088, 0.4], [9093, 0.63],
  [9099, 0.38], [9108, 0.37], [9117, 0.38], [9126, 0.38], [9134, 0.41], [9138, 0.43], [9142, 0.53], [9147, 0.45],
  [9152, 0.56], [9157, 0.4], [9166, 0.4], [9176, 0.4], [9186, 0.39], [9196, 0.41], [9202, 0.42], [9207, 0.51],
  [9212, 0.45], [9217, 0.54], [9222, 0.42], [9228, 0.4], [9235, 0.42], [9239, 0.46], [9245, 0.43], [9250, 0.42],
  [9254, 0.43], [9261, 0.41], [9269, 0.42], [9275, 0.51], [9279, 0.55], [9283, 0.5], [9286, 0.55], [9290, 0.48],
  [9295, 0.48], [9300, 0.48],
];

const zeroLine = [[4748, 0], [9300, 0]];

const toRows = (pairs: number[][]) => pairs.map(([w, f]) => ({ w, f }));

const fluxData = toRows([...fluxA, ...fluxB, ...fluxC, ...fluxD, ...fluxE, ...fluxF, ...fluxG, ...fluxH]);
const noiseData = toRows([...noiseA, ...noiseB, ...noiseC, ...noiseD, ...noiseE, ...noiseF, ...noiseG, ...noiseH]);
const zeroData = toRows(zeroLine);

const formatFlux = (v: number) => (v < 0 ? '\u2212' : '') + Math.abs(v).toFixed(2);

function FluxLabel(props: any) {
  const vb = props.viewBox || { y: 99, height: 694 };
  const x = 195;
  const y = vb.y + vb.height / 2 + 2;
  const up = -19;
  return (
    <text
      x={x}
      y={y}
      transform={`rotate(-90, ${x}, ${y})`}
      textAnchor="middle"
      fontFamily={FONT}
      fontSize={46}
      fill="#000"
    >
      10<tspan dy={up} fontSize={30}>{'\u221218'}</tspan>
      <tspan dy={-up}> erg s</tspan>
      <tspan dy={up} fontSize={30}>{'\u22121'}</tspan>
      <tspan dy={-up}> cm</tspan>
      <tspan dy={up} fontSize={30}>{'\u22122'}</tspan>
      <tspan dy={-up}> {'\u00c5'}</tspan>
      <tspan dy={up} fontSize={30}>{'\u22121'}</tspan>
    </text>
  );
}

function WaveLabel(props: any) {
  const vb = props.viewBox || { x: 367, width: 2326 };
  return (
    <text x={vb.x + vb.width / 2} y={879} textAnchor="middle" fontFamily={FONT} fontSize={32} fill="#000">
      Wavelength
    </text>
  );
}

function App() {
  return (
    <div style={{ position: 'relative', width: CHART_W, height: CHART_H, background: '#fff' }}>
      <svg width={CHART_W} height={100} style={{ position: 'absolute', left: 0, top: 0 }}>
        <text x={1530} y={75} textAnchor="middle" fontFamily={FONT} fontSize={50} fill="#000">
          {TITLE}
        </text>
      </svg>
      <LineChart width={CHART_W} height={CHART_H} margin={{ top: 99, right: 291, bottom: 37, left: 247 }}>
        <XAxis
          type="number"
          dataKey="w"
          domain={WAVE_DOMAIN}
          allowDataOverflow
          ticks={WAVE_TICKS}
          interval={0}
          height={60}
          tickSize={14}
          tickMargin={15}
          axisLine={{ stroke: '#000', strokeWidth: 3 }}
          tickLine={{ stroke: '#000', strokeWidth: 3 }}
          tick={{ fill: '#000', fontSize: 28, fontFamily: FONT }}
          label={WaveLabel}
        />
        <YAxis
          type="number"
          dataKey="f"
          domain={FLUX_DOMAIN}
          allowDataOverflow
          ticks={FLUX_TICKS}
          interval={0}
          width={120}
          tickSize={14}
          tickMargin={19}
          tickFormatter={formatFlux}
          axisLine={{ stroke: '#000', strokeWidth: 3 }}
          tickLine={{ stroke: '#000', strokeWidth: 3 }}
          tick={{ fill: '#000', fontSize: 35, fontFamily: FONT }}
          label={FluxLabel}
        />
        <Line
          data={noiseData}
          dataKey="f"
          type="linear"
          stroke="#008000"
          strokeWidth={1.6}
          dot={false}
          activeDot={false}
          isAnimationActive={false}
        />
        <Line
          data={zeroData}
          dataKey="f"
          type="linear"
          stroke="#0000ff"
          strokeWidth={5}
          dot={false}
          activeDot={false}
          isAnimationActive={false}
        />
        <Line
          data={fluxData}
          dataKey="f"
          type="linear"
          stroke="#000"
          strokeWidth={4}
          strokeLinejoin="round"
          dot={false}
          activeDot={false}
          isAnimationActive={false}
        />
        <ReferenceArea
          x1={WAVE_DOMAIN[0]}
          x2={WAVE_DOMAIN[1]}
          y1={FLUX_DOMAIN[0]}
          y2={FLUX_DOMAIN[1]}
          fill="none"
          fillOpacity={0}
          stroke="#000"
          strokeWidth={3}
        />
      </LineChart>
    </div>
  );
}

export default App;
